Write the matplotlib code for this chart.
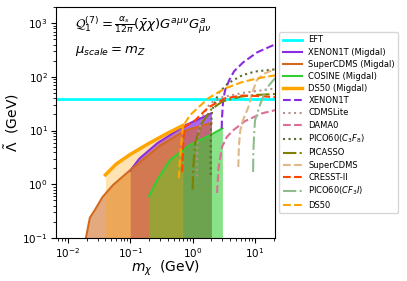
import matplotlib
matplotlib.use("Agg")
import matplotlib.pyplot as plt

# ---- data ----
eft_level = 38.0

xe_mig_m = [0.1, 0.14, 0.27, 0.76, 2.0]
xe_mig_L = [1.8, 3.0, 5.8, 12.5, 21.0]

scdms_mig_m = [0.0195, 0.0215, 0.0226, 0.027, 0.036, 0.053, 0.1, 0.3, 0.76, 2.0]
scdms_mig_L = [0.1, 0.18, 0.24, 0.33, 0.58, 0.97, 1.84, 5.2, 10.0, 14.0]

cosine_mig_m = [0.2, 0.27, 0.43, 0.9, 1.9, 3.0]
cosine_mig_L = [0.6, 1.2, 2.8, 5.4, 8.2, 11.0]

ds50_mig_m = [0.04, 0.06, 0.1, 0.2, 0.4, 0.7]
ds50_mig_L = [1.5, 2.4, 3.6, 5.8, 9.0, 12.5]

xe_m = [2.92, 2.96, 3.08, 3.31, 3.84, 4.61, 6.44, 10.8, 21.0]
xe_L = [11.0, 17.7, 36.7, 56.0, 86.0, 127.0, 186.0, 286.0, 404.0]

cdmslite_m = [1.17, 1.19, 1.25, 1.5, 1.9, 3.0, 6.2, 21.0]
cdmslite_L = [1.4, 5.0, 10.0, 20.0, 32.0, 42.0, 50.0, 61.0]

dama_m = [2.46, 2.6, 2.95, 3.5, 4.4, 6.9, 13.0, 21.0]
dama_L = [0.69, 2.0, 4.9, 7.5, 10.0, 15.0, 21.0, 24.0]

pico_c3f8_m = [1.95, 1.95, 1.97, 2.05, 2.6, 3.7, 6.2, 10.0, 21.0]
pico_c3f8_L = [1.5, 5.0, 12.0, 24.0, 50.0, 76.0, 107.0, 126.0, 138.0]

picasso_m = [1.0, 1.02, 1.1, 1.4, 2.0, 3.0, 6.0, 10.0, 21.0]
picasso_L = [0.8, 2.0, 6.0, 13.7, 25.0, 35.0, 43.0, 46.0, 48.0]

scdms_m = [5.4, 5.5, 5.8, 6.4, 7.8, 9.0, 10.7, 14.0, 21.0]
scdms_L = [2.1, 5.0, 10.0, 15.6, 27.0, 50.0, 87.0, 115.0, 140.0]

cresst_m = [0.68, 0.7, 0.72, 0.76, 1.1, 1.78, 3.3, 6.2, 11.0, 21.0]
cresst_L = [1.7, 4.0, 8.0, 12.0, 15.6, 27.0, 40.0, 45.0, 44.0, 42.0]

pico_cf3i_m = [9.3, 9.4, 9.7, 10.0, 12.0, 15.0, 21.0]
pico_cf3i_L = [1.7, 4.0, 9.0, 15.6, 30.0, 60.0, 95.0]

ds50_m = [0.6, 0.62, 0.65, 0.7, 0.91, 1.78, 3.3, 6.2, 11.0, 21.0]
ds50_L = [1.3, 2.5, 5.0, 12.0, 19.4, 40.0, 61.0, 80.0, 94.0, 107.0]

# ---- figure ----
fig = plt.figure(figsize=(4.07, 2.81), dpi=100)
ax = fig.add_axes([0.138, 0.153, 0.538, 0.822])
ax.set_xscale("log")
ax.set_yscale("log")
xmin, xmax = 6.5e-3, 21.0
ymin, ymax = 0.1, 2000.0

ax.axhline(eft_level, color="cyan", lw=2, label="EFT")

# fills (order matters for overlap colours)
floor = 1e-3
ax.fill_between(xe_mig_m, xe_mig_L, floor, color="blueviolet", alpha=0.72, lw=0)
ax.fill_between(scdms_mig_m, scdms_mig_L, floor, color="chocolate", alpha=0.57, lw=0)
ax.fill_between(cosine_mig_m, cosine_mig_L, floor, color="limegreen", alpha=0.58, lw=0)
ax.fill_between(ds50_mig_m, ds50_mig_L, floor, color="orange", alpha=0.3, lw=0)

ax.plot(xe_mig_m, xe_mig_L, color="blueviolet", lw=1.5, label="XENON1T (Migdal)")
ax.plot(scdms_mig_m, scdms_mig_L, color="chocolate", lw=1.5, label="SuperCDMS (Migdal)")
ax.plot(cosine_mig_m, cosine_mig_L, color="limegreen", lw=1.5, label="COSINE (Migdal)")
ax.plot(ds50_mig_m, ds50_mig_L, color="orange", lw=2.5, label="DS50 (Migdal)")

ax.plot(xe_m, xe_L, color="blueviolet", ls="--", lw=1.5, label="XENON1T")
ax.plot(cdmslite_m, cdmslite_L, color="rosybrown", ls=":", lw=1.5, label="CDMSLite")
ax.plot(dama_m, dama_L, color="palevioletred", ls="--", lw=1.5, label="DAMA0")
ax.plot(pico_c3f8_m, pico_c3f8_L, color="darkolivegreen", ls=":", lw=1.5, label=r"PICO60($C_3F_8$)")
ax.plot(picasso_m, picasso_L, color="olive", ls="-.", lw=1.5, label="PICASSO")
ax.plot(scdms_m, scdms_L, color="burlywood", ls="--", lw=1.5, label="SuperCDMS")
ax.plot(cresst_m, cresst_L, color="orangered", ls="--", lw=1.5, label="CRESST-II")
ax.plot(pico_cf3i_m, pico_cf3i_L, color="darkseagreen", ls="-.", lw=1.5, label=r"PICO60($CF_3I$)")
ax.plot(ds50_m, ds50_L, color="orange", ls="--", lw=1.5, label="DS50")

ax.set_xlim(xmin, xmax)
ax.set_ylim(ymin, ymax)
ax.set_xlabel(r"$m_\chi$  (GeV)", fontsize=10)
ax.xaxis.set_label_coords(0.5, -0.09)
ax.set_ylabel(r"$\tilde{\Lambda}$  (GeV)", fontsize=10, labelpad=1)
ax.tick_params(labelsize=7.5, pad=2.5)

ax.text(0.087, 0.92, r"$\mathcal{Q}_1^{(7)}=\frac{\alpha_s}{12\pi}(\bar{\chi}\chi)G^{a\mu\nu}G^a_{\mu\nu}$",
        transform=ax.transAxes, fontsize=9.5, va="center", ha="left")
ax.text(0.087, 0.81, r"$\mu_{scale}=m_Z$", transform=ax.transAxes, fontsize=9.5,
        va="center", ha="left")

ax.legend(loc="center left", bbox_to_anchor=(1.0, 0.5), fontsize=6,
          labelspacing=0.38, handlelength=2.3)

fig.savefig("out.png", dpi=100)
